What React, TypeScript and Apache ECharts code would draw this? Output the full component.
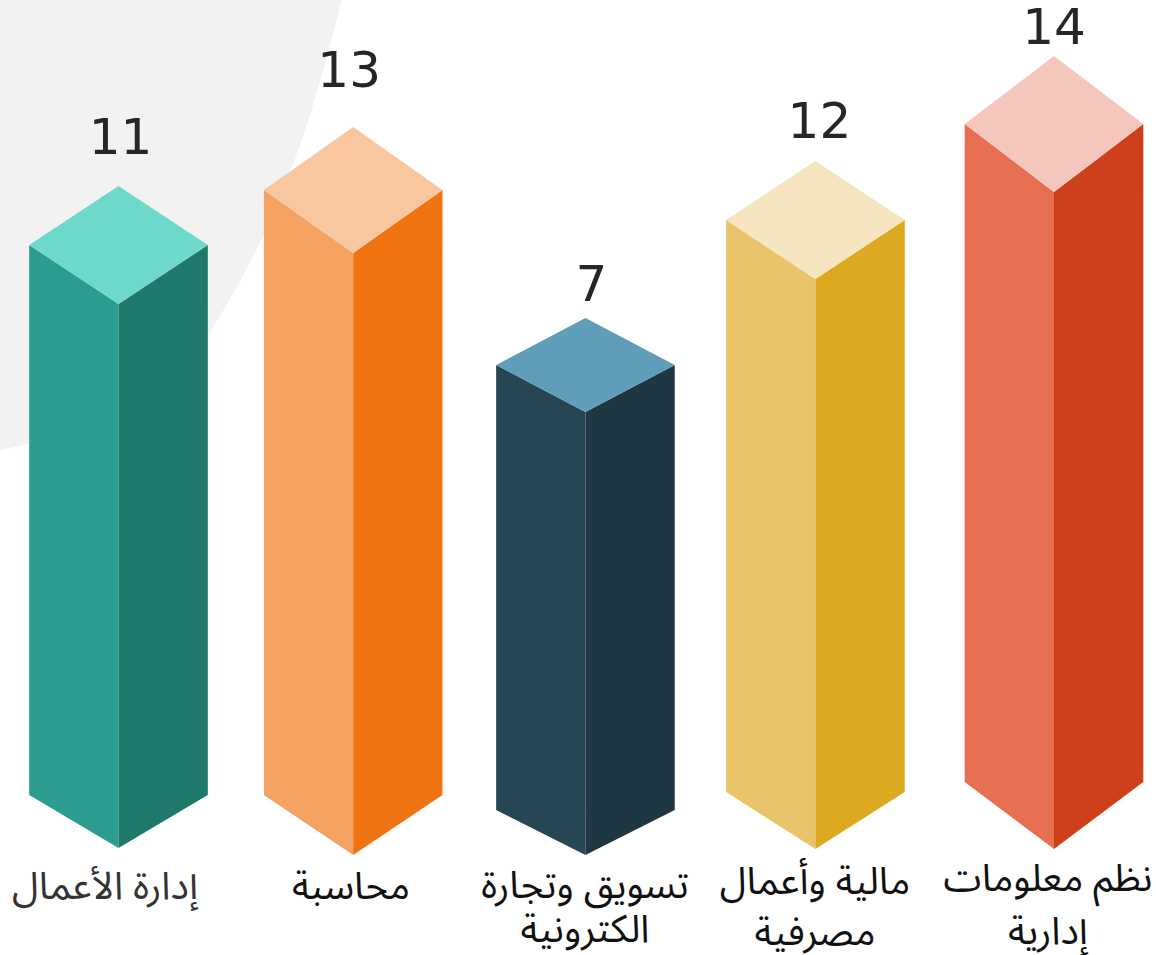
import React, { useEffect, useRef } from "react";
import * as echarts from "echarts";

const categories = ["إدارة الأعمال", "محاسبة", "تسويق وتجارة\nالكترونية", "مالية وأعمال\nمصرفية", "نظم معلومات\nإدارية"];
const values = [11, 13, 7, 12, 14];

const leftColors = ["#2A9D8F", "#F4A261", "#264653", "#E9C46A", "#E76F51"];
const rightColors = ["#1F786C", "#EF7411", "#1F3742", "#DDA921", "#CE3F1B"];
const topColors = ["#6CD9CA", "#F8C7A0", "#5F9DB8", "#F5E6C0", "#F5C6BC"];

// Per-bar drawing adjustments (px): the source is a hand-made infographic
const dx = [0, 0.8, -0.8, -4.7, 0];
const lift = [-4, -1, 0, 0, -38];
const depth = [59, 63, 47, 59, 68];
const baseSide = [227, 227, 242, 224, 214];
const baseDrop = [53, 60, 45, 57, 67];
const valueGap = [49, 57, 34, 40, 29];
const valueDx = [2, -4, 6, 4, 0];
const labelX = [105, 351, 585, 815, 1048];
const labelY = [[886], [886], [885, 929], [881, 932], [878, 931]];
const halfWidth = 89.3;

const blobPath = "M0 0 L342 0 C 320 80 295 200 207 337 C 170 390 100 432 0 450 Z";
(echarts.graphic as any).registerShape("blob", (echarts.graphic as any).extendPath(blobPath, {}));

const renderItem = (params: any, api: any) => {
  const i = api.value(0);
  const p = api.coord([i, api.value(1)]);
  const zero = api.coord([i, 0]);
  const cx = p[0] + dx[i];
  const sideY = p[1] + lift[i];
  const d = depth[i];
  const w = halfWidth;
  const botSide = zero[1] + baseSide[i];
  const botFront = botSide + baseDrop[i];
  const poly = (points: number[][], fill: string) => ({
    type: "polygon",
    shape: { points },
    style: { fill },
  });
  const lines = categories[i].split("\n");
  return {
    type: "group",
    children: [
      poly([[cx - w, sideY], [cx, sideY + d], [cx, botFront], [cx - w, botSide]], leftColors[i]),
      poly([[cx + w, sideY], [cx, sideY + d], [cx, botFront], [cx + w, botSide]], rightColors[i]),
      poly([[cx, sideY - d], [cx + w, sideY], [cx, sideY + d], [cx - w, sideY]], topColors[i]),
      {
        type: "text",
        style: {
          text: String(values[i]),
          x: cx + valueDx[i],
          y: sideY - d - valueGap[i],
          align: "center",
          verticalAlign: "middle",
          fontFamily: "DejaVu Sans",
          fontSize: 50,
          fill: "#262626",
        },
      },
      ...lines.map((t: string, k: number) => ({
        type: "text",
        style: {
          text: t,
          x: labelX[i],
          y: labelY[i][k],
          align: "center",
          verticalAlign: "middle",
          fontFamily: "'Noto Sans Arabic', 'Noto Sans', sans-serif",
          fontSize: 38.5,
          fill: i === 0 ? "#333333" : "#111111",
        },
      })),
    ],
  };
};

export default function App() {
  const ref = useRef<HTMLDivElement>(null);
  useEffect(() => {
    const chart = echarts.init(ref.current!, null, { renderer: "svg" });
    chart.setOption({
      animation: false,
      backgroundColor: "#ffffff",
      graphic: [
        { type: "blob", x: 0, y: 0, z: 0, silent: true, style: { fill: "#F2F2F2" } },
      ],
      grid: { left: 118.5, width: 935.5, top: 17, height: 841 },
      xAxis: { type: "value", min: 0, max: 4, show: false },
      yAxis: { type: "value", min: -10, max: 19, show: false },
      series: [
        {
          type: "custom",
          coordinateSystem: "cartesian2d",
          clip: false,
          renderItem,
          encode: { x: 0, y: 1 },
          data: values.map((v, i) => [i, v]),
        },
      ],
    });
    return () => chart.dispose();
  }, []);
  return <div ref={ref} style={{ position: "fixed", left: 0, top: 0, width: 1156, height: 955 }} />;
}
